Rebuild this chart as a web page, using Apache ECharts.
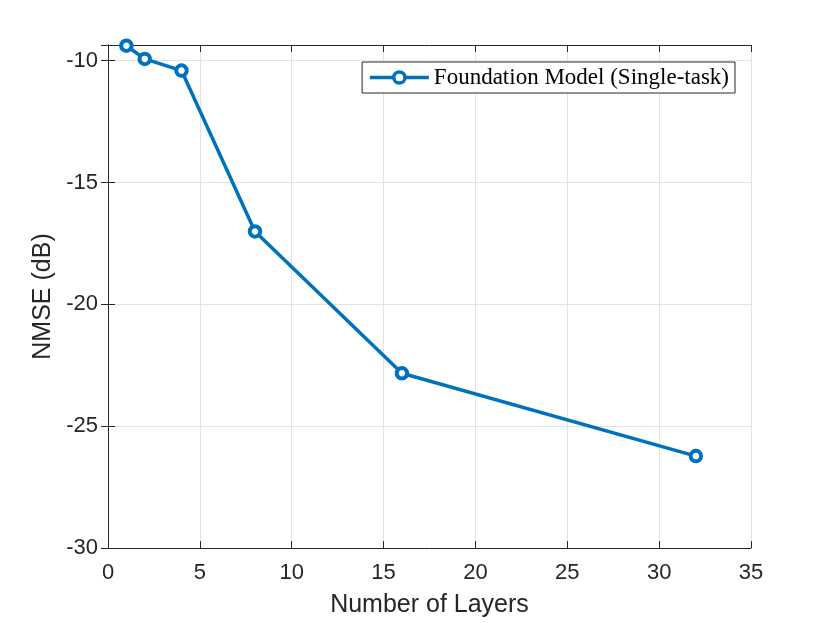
<!DOCTYPE html>
<html><head><meta charset="utf-8">
<script src="https://cdn.jsdelivr.net/npm/echarts@6/dist/echarts.min.js"></script>
<style>html,body{margin:0;padding:0;background:#fff}#c{width:830px;height:623px}</style>
</head><body><div id="c"></div>
<script>
const layers = [1, 2, 4, 8, 16, 32];
const nmse = [-9.39, -9.93, -10.41, -17.01, -22.83, -26.23];
const seriesName = 'Foundation Model (Single-task)';
const xTicks = [0, 5, 10, 15, 20, 25, 30, 35];
const yTicks = [-30, -25, -20, -15, -10];

const chart = echarts.init(document.getElementById('c'));
const axisCol = '#262626';
const tickFont = {fontFamily: 'Liberation Sans, Arial, sans-serif', fontSize: 22, color: axisCol};
const baseX = {type: 'value', min: 0, max: 35, interval: 5,
  axisLine: {show: true, lineStyle: {color: axisCol, width: 1}},
  axisTick: {show: true, inside: true, length: 7, lineStyle: {color: axisCol}},
  splitLine: {show: false}};
const baseY = {type: 'value', min: -30, max: -9.36, interval: 5,
  axisLine: {show: true, lineStyle: {color: axisCol, width: 1}},
  axisTick: {show: true, inside: true, length: 7, lineStyle: {color: axisCol}},
  splitLine: {show: false}};
chart.setOption({
  backgroundColor: '#fff',
  animation: false,
  grid: {left: 108, right: 79, top: 45, bottom: 74, containLabel: false},
  legend: {
    data: [seriesName], right: 95, top: 62, orient: 'vertical',
    backgroundColor: '#fff', borderColor: axisCol, borderWidth: 1,
    padding: [4, 6, 4, 6], itemWidth: 59, itemHeight: 14, itemGap: 5,
    lineStyle: {width: 3.5, color: '#0072BD'},
    itemStyle: {color: '#fff', borderColor: '#0072BD', borderWidth: 3.5},
    textStyle: {fontFamily: 'Liberation Serif, DejaVu Serif, serif', fontSize: 23, color: '#000'}
  },
  xAxis: [
    Object.assign({}, baseX, {position: 'bottom',
      name: 'Number of Layers', nameLocation: 'middle', nameGap: 45,
      nameTextStyle: {fontFamily: 'Liberation Sans, Arial, sans-serif', fontSize: 25, color: axisCol},
      axisLabel: Object.assign({margin: 14}, tickFont),
      splitLine: {show: true, lineStyle: {color: '#e3e3e3', width: 1}}}),
    Object.assign({}, baseX, {position: 'top', axisLabel: {show: false}})
  ],
  yAxis: [
    Object.assign({}, baseY, {position: 'left',
      name: 'NMSE (dB)', nameLocation: 'middle', nameGap: 50, nameRotate: 90,
      nameTextStyle: {fontFamily: 'Liberation Sans, Arial, sans-serif', fontSize: 25, color: axisCol},
      axisLabel: Object.assign({margin: 10, showMaxLabel: false}, tickFont),
      splitLine: {show: true, showMaxLine: false, lineStyle: {color: '#e3e3e3', width: 1}}}),
    Object.assign({}, baseY, {position: 'right', axisLabel: {show: false}})
  ],
  series: [{
    name: seriesName, type: 'line', xAxisIndex: 0, yAxisIndex: 0,
    data: layers.map((x, i) => [x, nmse[i]]),
    symbol: 'circle', symbolSize: 10.5,
    lineStyle: {color: '#0072BD', width: 3.5},
    itemStyle: {color: '#fff', borderColor: '#0072BD', borderWidth: 4},
    z: 5
  }]
});
</script></body></html>
